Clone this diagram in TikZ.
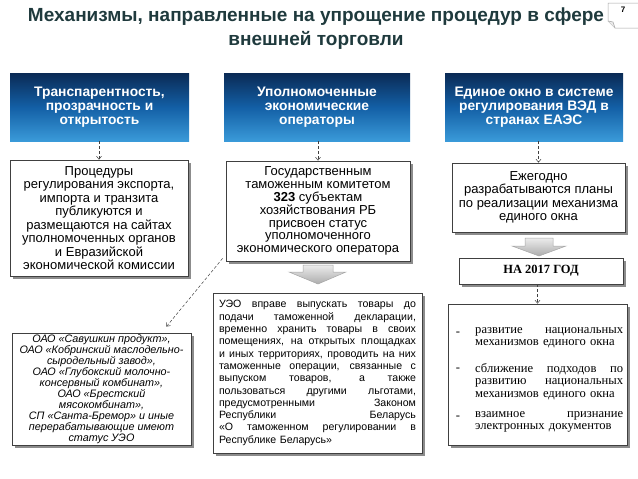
\documentclass[tikz,border=0pt]{standalone}
\usepackage{fontspec}
\setmainfont{Liberation Sans}
\newfontfamily\serifT{Liberation Serif}
\usetikzlibrary{arrows.meta,shadows}
\definecolor{titlec}{HTML}{1F3A3D}
\definecolor{bluetop}{HTML}{0A2A55}
\definecolor{bluemid}{HTML}{135FA5}
\definecolor{bluebot}{HTML}{3A9AD9}
\newcommand{\jl}[1]{\makebox[\hsize][s]{\spaceskip=0pt\xspaceskip=0pt\relax #1}\\}
\begin{document}
\begin{tikzpicture}[x=1pt,y=-1pt,
  bluebox/.style={draw=none, top color=bluetop, bottom color=bluebot, middle color=bluemid,
    minimum height=68pt, align=center, text=white, inner sep=0pt,
    font=\bfseries\fontsize{13.8}{14.2}\selectfont},
  whitebox/.style={draw=black!75, line width=0.8pt, fill=white,
    drop shadow={shadow xshift=2.5pt,shadow yshift=-2.5pt,fill=black!45,opacity=1},
    align=center, inner sep=0pt},
  dasharr/.style={densely dashed, -{Straight Barb[length=3pt,width=5pt]}, line width=0.5pt, black!75},
  blockarr/.style={top color=gray!15, bottom color=gray!65, draw=gray!70, line width=0.5pt},
  bodytext/.style={font=\fontsize{13}{13.5}\selectfont},
]
\useasboundingbox (0,0) rectangle (638,479);

% title
\node[font=\bfseries\fontsize{19}{24}\selectfont, text=titlec, align=center] (title) at (316,29)
  {Механизмы, направленные на упрощение процедур в сфере\\внешней торговли};

% page number
\draw[gray!70, fill=white, line width=0.5pt] (608,3) -- (640,3) -- (640,28) -- (615,28) -- (608,21) -- cycle;
\draw[gray!70, fill=gray!15, line width=0.5pt] (608,21) -- (613,22) -- (615,28);
\node[font=\bfseries\fontsize{8}{9}\selectfont] (pg) at (623,10) {7};

% blue boxes
\node[bluebox, minimum width=179pt] (b1) at (99.5,107) {Транспарентность,\\прозрачность и\\открытость};
\node[bluebox, minimum width=186pt] (b2) at (317,107) {Уполномоченные\\экономические\\операторы};
\node[bluebox, minimum width=178pt] (b3) at (534,107) {Единое окно в системе\\регулирования ВЭД в\\странах ЕАЭС};

% white boxes
\node[whitebox, bodytext, minimum width=178pt, minimum height=116pt] (A) at (99,218)
  {Процедуры\\регулирования экспорта,\\импорта и транзита\\публикуются и\\размещаются на сайтах\\уполномоченных органов\\и Евразийской\\экономической комиссии};
\node[whitebox, font=\fontsize{13}{12.9}\selectfont, minimum width=184pt, minimum height=100pt] (B) at (318,211)
  {Государственным\\таможенным комитетом\\\textbf{323} субъектам\\хозяйствования РБ\\присвоен статус\\уполномоченного\\экономического оператора};
\node[whitebox, bodytext, minimum width=173pt, minimum height=69pt] (C) at (538.5,197.5)
  {Ежегодно\\разрабатываются планы\\по реализации механизма\\единого окна};

\node[whitebox, minimum width=164pt, minimum height=26pt, font=\serifT\bfseries\fontsize{12.5}{14}\selectfont] (na) at (541,271) {НА 2017 ГОД};

\node[whitebox, minimum width=179pt, minimum height=141pt] (list) at (537.5,374.5) {};

\node[whitebox, minimum width=209pt, minimum height=160pt, text width=197pt, align=left,
  font=\fontsize{10.6}{12.3}\selectfont] (ueo) at (317.5,373)
  {\jl{УЭО вправе выпускать товары до}
   \jl{подачи таможенной декларации,}
   \jl{временно хранить товары в своих}
   \jl{помещениях, на открытых площадках}
   \jl{и иных территориях, проводить на них}
   \jl{таможенные операции, связанные с}
   \jl{выпуском товаров, а также}
   \jl{пользоваться другими льготами,}
   \jl{предусмотренными Законом}
   \jl{Республики Беларусь}
   \jl{«О таможенном регулировании в}
   Республике Беларусь»};

\node[whitebox, minimum width=179pt, minimum height=112pt, font=\itshape\fontsize{10.8}{11}\selectfont] (it) at (101.5,389)
  {ОАО «Савушкин продукт»,\\ОАО «Кобринский маслодельно-\\сыродельный завод»,\\ОАО «Глубокский молочно-\\консервный комбинат»,\\ОАО «Брестский\\мясокомбинат»,\\СП «Санта-Бремор» и иные\\перерабатывающие имеют\\статус УЭО};

% list contents
\tikzset{listitem/.style={anchor=north west, inner sep=0pt, text width=148pt, align=left,
  font=\serifT\fontsize{12.6}{12.5}\selectfont}}
\node[listitem] (l1) at (475,327) {\jl{развитие национальных}механизмов единого окна};
\node[listitem] (l2) at (475,363) {\jl{сближение подходов по}\jl{развитию национальных}механизмов единого окна};
\node[listitem] (l3) at (475,411) {\jl{взаимное признание}электронных документов};
\node[font=\serifT\fontsize{12.6}{12}\selectfont, inner sep=0pt] (d1) at (458,334) {-};
\node[font=\serifT\fontsize{12.6}{12}\selectfont, inner sep=0pt] (d2) at (458,370) {-};
\node[font=\serifT\fontsize{12.6}{12}\selectfont, inner sep=0pt] (d3) at (458,418) {-};

% dashed arrows
\draw[dasharr] (b1.south -| A.north) -- (A.north);
\draw[dasharr] (b2.south -| B.north) -- (B.north);
\draw[dasharr] (b3.south -| C.north) -- (C.north);
\draw[dasharr] (na.south -| list.north) -- (list.north);
\draw[dasharr] ([xshift=-3pt,yshift=3pt]B.south west) -- ([xshift=-25pt,yshift=6pt]it.north east);

% block arrows
\path[blockarr] (303,265) -- (333,265) -- (333,272) -- (346,272) -- (318,284) -- (289,272) -- (303,272) -- cycle;
\path[blockarr] (525,238) -- (553,238) -- (553,246) -- (566,246) -- (539,256) -- (512,246) -- (525,246) -- cycle;
\end{tikzpicture}
\end{document}
